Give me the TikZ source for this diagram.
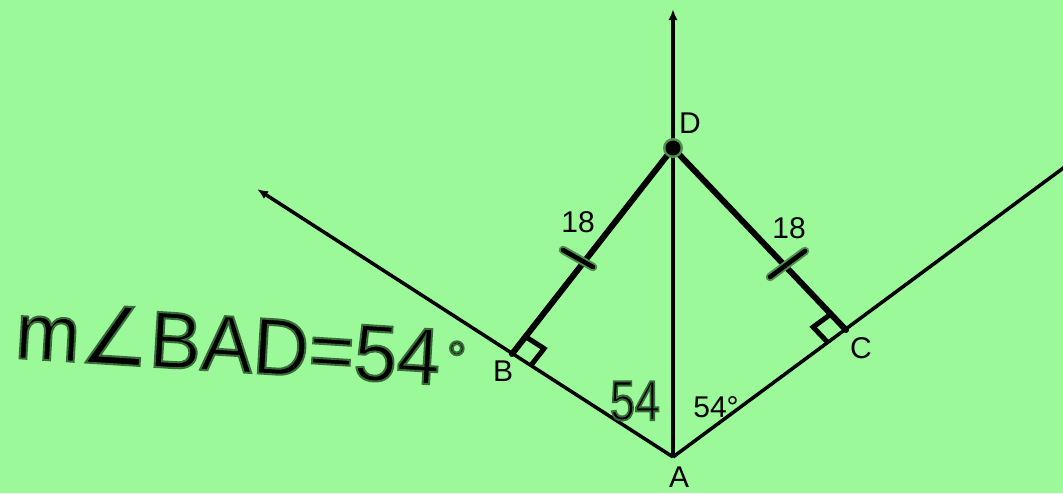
\documentclass[tikz,border=0pt]{standalone}
\usepackage{fontspec}
\setmainfont{Liberation Sans}
\newfontfamily\djv{DejaVu Sans}
\usetikzlibrary{arrows.meta,calc}
\definecolor{bg}{HTML}{9CF99A}
\definecolor{halo}{HTML}{4F8F4F}
\newcommand{\hw}[1]{\special{pdf:literal direct 0.22 0.42 0.22 RG 2 Tr 2 w}#1\special{pdf:literal direct 0 Tr 0 0 0 RG}}
\begin{document}
\begin{tikzpicture}[x=1pt,y=-1pt,
  ray/.style={line width=3.5pt,black},
  seg/.style={line width=6pt,black},
  rmark/.style={line width=5pt,black,line join=miter},
  tickm/.style={line width=4.6pt,black,line cap=round},
  tickhalo/.style={line width=8.5pt,halo,line cap=round},
  lab/.style={font=\fontsize{30}{33}\selectfont,inner sep=0pt},
  arr/.style={-{Latex[length=11pt,width=9pt]}}]
\fill[bg] (0,0) rectangle (1063,493);
\useasboundingbox (0,0) rectangle (1063,493);
\coordinate (A) at (673,457);
\coordinate (D) at (673,148);
\coordinate (B) at (512,354);
\coordinate (C) at (846,330);
\coordinate (Lt) at (257,189);
\coordinate (Tt) at (673,9);
\coordinate (Re) at (1066,166);
% rays
\draw[ray,arr] (A) -- (Lt);
\draw[ray,arr] (A) -- (Tt);
\draw[ray] (A) -- (Re);
% segments
\draw[seg,line cap=round] (B) -- (D) -- (C);
% right angle marks
\coordinate (b1) at ($(B)!22pt!(D)$);
\coordinate (b2) at ($(B)!22pt!(A)$);
\coordinate (b3) at ($(b1)+(b2)-(B)$);
\draw[rmark] (b1) -- (b3) -- (b2);
\coordinate (c1) at ($(C)!22pt!(D)$);
\coordinate (c2) at ($(C)!22pt!(A)$);
\coordinate (c3) at ($(c1)+(c2)-(C)$);
\draw[rmark] (c1) -- (c3) -- (c2);
% tick marks
\coordinate (tl) at (579,259);
\coordinate (tr) at (786,265);
\draw[tickhalo] ($(tl)+(-16,-9)$) -- ($(tl)+(14,8)$);
\draw[tickm] ($(tl)+(-16,-9)$) -- ($(tl)+(14,8)$);
\draw[tickhalo] ($(tr)+(-16,12)$) -- ($(tr)+(19,-14)$);
\draw[tickm] ($(tr)+(-16,12)$) -- ($(tr)+(19,-14)$);
% dot at D
\fill[halo] (D) circle (10pt);
\fill[black] (D) circle (7.5pt);
% labels
\node[lab] (lD) at (690,123) {D};
\node[lab] (lB) at (503,371) {B};
\node[lab] (lC) at (861,348) {C};
\node[lab] (lA) at (679,477) {A};
\node[lab] (l18a) at (578,222) {18};
\node[lab] (l18b) at (789,228) {18};
\node[lab] (l54d) at (716,407) {54°};
\node[inner sep=0pt,font=\fontsize{56}{60}\selectfont,xscale=0.8] (l54) at (635,401) {\hw{54}};
\node[inner sep=0pt,font=\fontsize{80}{90}\selectfont,anchor=base west,xscale=0.97,rotate=-3.5] (eq) at (14,358) {\hw{m{\djv ∠}BAD=54\hspace{0.08em}\raisebox{0.12em}{\fontsize{50}{60}\selectfont °}}};
\end{tikzpicture}
\end{document}
